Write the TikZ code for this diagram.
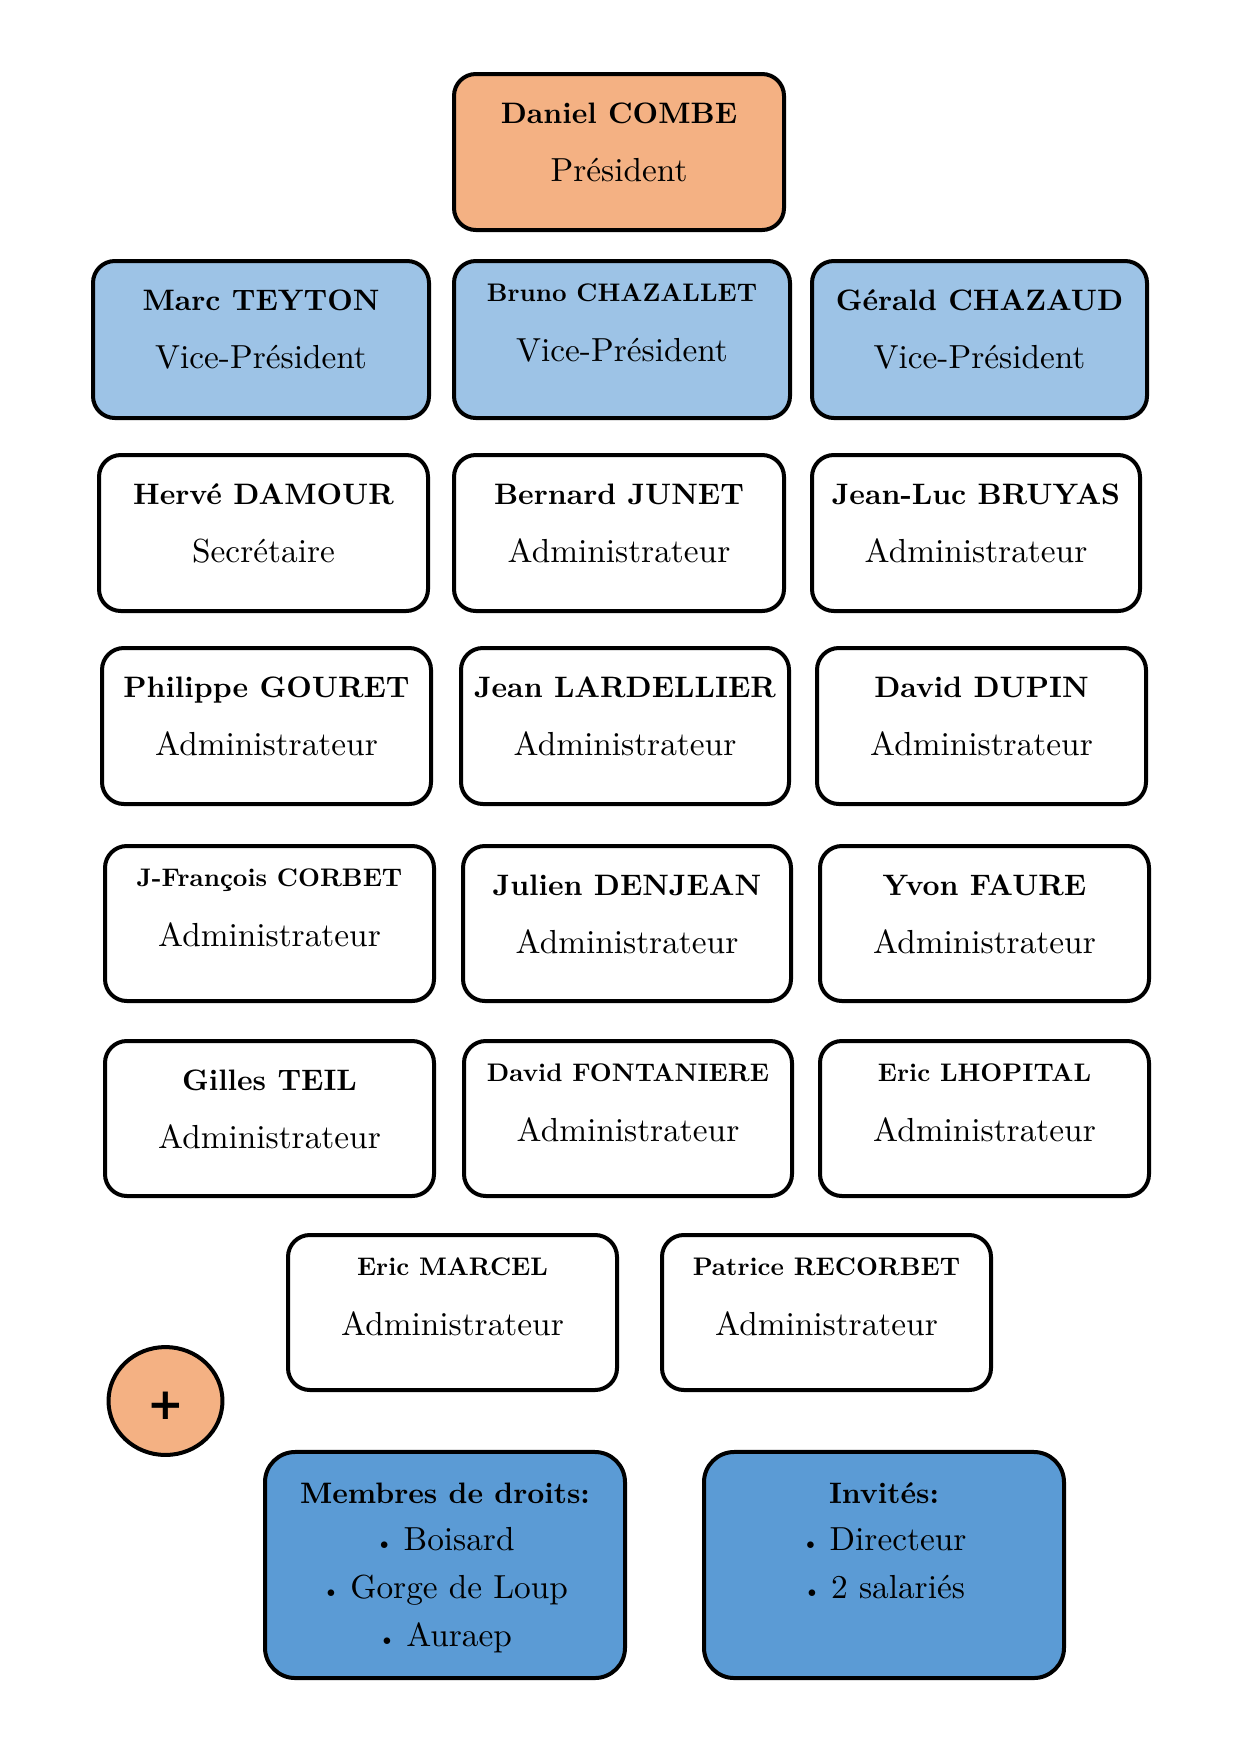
\documentclass[tikz,border=0pt]{standalone}
\usepackage{fontspec}
\setmainfont{lmroman10}[Extension=.otf, UprightFont=*-regular, BoldFont=*-bold, ItalicFont=*-italic, BoldItalicFont=*-bolditalic]
\newfontfamily\plusfont{DejaVu Sans}
\usetikzlibrary{shapes.geometric}
\definecolor{presC}{HTML}{F4B183}
\definecolor{vpC}{HTML}{9DC3E6}
\definecolor{memC}{HTML}{5B9BD5}
\tikzset{
  bx/.style={draw=black, line width=1.92pt, rounded corners=10.5pt, inner sep=0pt},
  pres/.style={bx, fill=presC},
  vp/.style={bx, fill=vpC},
  adm/.style={bx, fill=white},
  mem/.style={bx, fill=memC, rounded corners=14.5pt},
  nm/.style={anchor=base, inner sep=0pt, font=\fontsize{14.2}{17}\selectfont\bfseries},
  nms/.style={anchor=base, inner sep=0pt, font=\fontsize{12.2}{15}\selectfont\bfseries},
  rl/.style={anchor=base, inner sep=0pt, font=\fontsize{16}{19}\selectfont},
}
\newcommand\obox[8]{%
  \pgfmathsetmacro\cx{(#2+#4)/2}%
  \pgfmathsetmacro\cy{(#3+#5)/2}%
  \pgfmathsetmacro\bw{(#4-#2-4)*0.48}%
  \pgfmathsetmacro\bh{(#5-#3-4)*0.48}%
  \node[#6, minimum width=\bw pt, minimum height=\bh pt] (#1) at (\cx,\cy) {};
  \node[nm] (#1n) at (\cx,#3+51) {#7};
  \node[rl] (#1r) at (\cx,#3+109) {#8};}
\newcommand\oboxs[8]{%
  \pgfmathsetmacro\cx{(#2+#4)/2}%
  \pgfmathsetmacro\cy{(#3+#5)/2}%
  \pgfmathsetmacro\bw{(#4-#2-4)*0.48}%
  \pgfmathsetmacro\bh{(#5-#3-4)*0.48}%
  \node[#6, minimum width=\bw pt, minimum height=\bh pt] (#1) at (\cx,\cy) {};
  \node[nms] (#1n) at (\cx,#3+42) {#7};
  \node[rl] (#1r) at (\cx,#3+102) {#8};}
\newcommand\bul{{\fontsize{11}{11}\selectfont\textbullet}\hspace{5pt}}
\begin{document}
\begin{tikzpicture}[x=0.48pt, y=-0.48pt]
\useasboundingbox (0,0) rectangle (1240,1754);
% President
\obox{pres}{452}{72}{786}{232}{pres}{Daniel COMBE}{Président}
% Vice-presidents
\obox{vpa}{91}{259}{431}{420}{vp}{Marc TEYTON}{Vice-Président}
\oboxs{vpb}{452}{259}{792}{420}{vp}{Bruno CHAZALLET}{Vice-Président}
\obox{vpc}{810}{259}{1149}{420}{vp}{Gérald CHAZAUD}{Vice-Président}
% Row 2
\obox{ra}{97}{453}{430}{613}{adm}{Hervé DAMOUR}{Secrétaire}
\obox{rb}{452}{453}{786}{613}{adm}{Bernard JUNET}{Administrateur}
\obox{rc}{810}{453}{1142}{613}{adm}{Jean-Luc BRUYAS}{Administrateur}
% Row 3
\obox{sa}{100}{646}{433}{806}{adm}{Philippe GOURET}{Administrateur}
\obox{sb}{459}{646}{791}{806}{adm}{Jean LARDELLIER}{Administrateur}
\obox{sc}{815}{646}{1148}{806}{adm}{David DUPIN}{Administrateur}
% Row 4
\oboxs{ta}{103}{844}{436}{1003}{adm}{J-François CORBET}{Administrateur}
\obox{tb}{461}{844}{793}{1003}{adm}{Julien DENJEAN}{Administrateur}
\obox{tc}{818}{844}{1151}{1003}{adm}{Yvon FAURE}{Administrateur}
% Row 5
\obox{ua}{103}{1039}{436}{1198}{adm}{Gilles TEIL}{Administrateur}
\oboxs{ub}{462}{1039}{794}{1198}{adm}{David FONTANIERE}{Administrateur}
\oboxs{uc}{818}{1039}{1151}{1198}{adm}{Eric LHOPITAL}{Administrateur}
% Row 6
\oboxs{va}{286}{1233}{619}{1392}{adm}{Eric MARCEL}{Administrateur}
\oboxs{vb}{660}{1233}{993}{1392}{adm}{Patrice RECORBET}{Administrateur}
% Plus circle
\node[draw=black, line width=1.92pt, fill=presC, ellipse, inner sep=0pt,
      minimum width=54.7pt, minimum height=51.8pt] (plus) at (165.5,1401) {};
\node[inner sep=0pt, font=\fontsize{21}{21}\selectfont\plusfont\bfseries] (plust) at (165.7,1406) {+};
% Bottom boxes
\node[mem, minimum width=172.8pt, minimum height=108.5pt] (memb) at (445,1565) {};
\node[nm] (memb1) at (445,1503) {Membres de droits:};
\node[rl] (memb2) at (445,1550) {\bul Boisard};
\node[rl] (memb3) at (445,1598) {\bul Gorge de Loup};
\node[rl] (memb4) at (445,1646) {\bul Auraep};
\node[mem, minimum width=172.8pt, minimum height=108.5pt] (inv) at (884,1565) {};
\node[nm] (inv1) at (884,1503) {Invités:};
\node[rl] (inv2) at (884,1550) {\bul Directeur};
\node[rl] (inv3) at (884,1598) {\bul 2 salariés};
\end{tikzpicture}
\end{document}
